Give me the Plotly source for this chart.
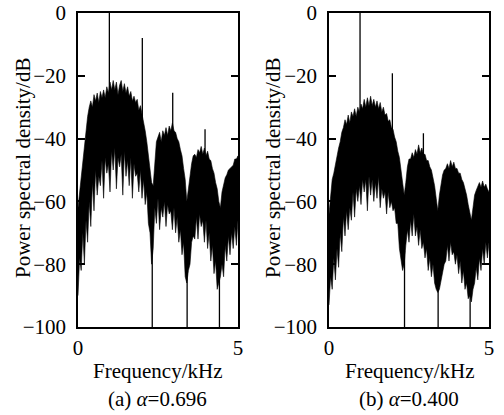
import numpy as np
import plotly.graph_objects as go

# frequency grid (kHz), 0.05 kHz step
freq = [round(0.05 * i, 2) for i in range(101)]

# ---- panel (a) alpha = 0.696 : upper / lower edge of the dense spectrum (dB)
upper_a = [-62, -57, -51, -47, -43, -38, -33, -30, -28, -30,
           -26, -28, -25.5, -28.5, -25, -27, -24.5, -27, -23.5, -25.5,
           -22, -24.5, -21.5, -24.5, -22, -26, -23, -21.5, -25, -22.5,
           -25.5, -23.5, -26.5, -25, -28, -26.5, -28.5, -27.5, -31, -29.5,
           -32, -34, -37.5, -41, -45.5, -49, -54, -55, -47, -41,
           -39.5, -38, -41, -37.5, -39, -36.5, -39, -36, -37.5, -35,
           -37.5, -38, -40, -41, -43.5, -45.5, -49.5, -53, -60, -56,
           -51, -48, -45.5, -45, -46, -43.5, -44.5, -42.5, -45, -43,
           -45.5, -44, -46.5, -47, -49.5, -51, -54, -56, -60, -62,
           -57, -54.5, -52.5, -51.5, -50, -49.5, -49, -48.5, -46.5, -46.5, -45.5]
lower_a = [-90, -78, -82, -70, -80, -66, -73, -60, -68, -54,
           -63, -50, -58, -52, -55, -47, -59, -46, -51, -48,
           -57, -44, -50, -43, -56, -46, -49, -45, -58, -44,
           -52, -47, -55, -46, -59, -48, -52, -51, -57, -50,
           -59, -53, -61, -57, -67, -70, -80, -75, -62, -67,
           -59, -69, -62, -65, -60, -68, -61, -64, -63, -69,
           -62, -70, -65, -73, -69, -77, -73, -84, -86, -82,
           -80, -73, -71, -72, -65, -72, -64, -68, -66, -73,
           -66, -75, -70, -79, -74, -83, -79, -88, -86, -84,
           -80, -84, -74, -79, -71, -77, -70, -75, -68, -74, -66]
up_spike_f_a = [0.98, 2.01, 2.96, 3.97]
up_spike_db_a = [0, -8, -25.4, -37]
null_f_a = [2.32, 3.41, 4.42]

# ---- panel (b) alpha = 0.400
upper_b = [-64, -58, -53, -51, -48, -45, -43, -41, -38, -36.5,
           -34, -35.5, -32.5, -35, -31.5, -33, -30.5, -33, -30, -31.5,
           -29, -30.5, -27.5, -30, -27, -29.5, -26.5, -29.5, -27.5, -30,
           -28, -30.5, -28.5, -31.5, -30, -32.5, -32, -34.5, -34, -36.5,
           -37, -39.5, -41, -44, -46, -50, -54, -58, -54, -49,
           -46.5, -46.5, -44.5, -46, -43.5, -45, -42, -44.5, -43, -45,
           -45, -47, -47, -49, -50, -52.5, -55, -59, -63, -58,
           -54, -51.5, -50, -49.5, -48, -49.5, -47, -49, -47.5, -49.5,
           -49.5, -51, -51, -53, -54, -56, -58, -61, -64, -66,
           -62, -58, -56.5, -55.5, -54, -55.5, -53.5, -55.5, -54.5, -56, -57]
lower_b = [-93, -84, -88, -78, -85, -75, -81, -70, -76, -65,
           -71, -63, -69, -62, -66, -57, -65, -56, -60, -55,
           -61, -53, -57, -53, -63, -52, -58, -53, -60, -54,
           -59, -52, -62, -56, -59, -57, -64, -57, -62, -60,
           -63, -62, -67, -67, -75, -78, -82, -80, -74, -69,
           -73, -66, -71, -64, -71, -68, -74, -69, -75, -73,
           -78, -75, -82, -78, -84, -80, -86, -88, -89, -88,
           -86, -83, -80, -79, -74, -79, -73, -77, -76, -80,
           -77, -83, -79, -86, -82, -88, -86, -91, -90, -92,
           -88, -86, -81, -85, -78, -82, -75, -80, -73, -78, -73]
up_spike_f_b = [0.97, 1.98, 2.95]
up_spike_db_b = [0, -19.2, -38.3]
null_f_b = [2.36, 3.41, 4.41]

x_ticks = [0, 5]
y_ticks = [0, -20, -40, -60, -80, -100]
captions = ["(a) <i>α</i>=0.696", "(b) <i>α</i>=0.400"]

FONT = "Liberation Serif"
fig = go.Figure()


def add_panel(col, upper, lower, sf, sdb, nulls):
    xa = "x" if col == 1 else "x2"
    ya = "y" if col == 1 else "y2"
    fig.add_trace(go.Scatter(
        x=freq + freq[::-1], y=upper + lower[::-1], mode="lines",
        fill="toself", fillcolor="black",
        line=dict(color="black", width=0.6), xaxis=xa, yaxis=ya,
        showlegend=False, hoverinfo="skip"))
    # narrow tonal spikes rising out of the spectrum
    base_up = np.interp(sf, freq, upper) - 3
    xs, ys = [], []
    for f, b, t in zip(sf, base_up, sdb):
        xs += [f, f, None]
        ys += [b, t, None]
    # deep nulls dropping to the floor
    base_lo = np.interp(nulls, freq, lower) + 3
    for f, b in zip(nulls, base_lo):
        xs += [f, f, None]
        ys += [b, -100, None]
    fig.add_trace(go.Scatter(
        x=xs, y=ys, mode="lines", line=dict(color="black", width=1.3),
        xaxis=xa, yaxis=ya, showlegend=False, hoverinfo="skip"))


add_panel(1, upper_a, lower_a, up_spike_f_a, up_spike_db_a, null_f_a)
add_panel(2, upper_b, lower_b, up_spike_f_b, up_spike_db_b, null_f_b)

axis_common = dict(showline=True, linecolor="black", linewidth=1.5,
                   mirror=True, showgrid=False, zeroline=False,
                   automargin=False,
                   tickfont=dict(family=FONT, size=21, color="black"))
xcommon = dict(axis_common, range=[0, 5], tickvals=x_ticks,
               ticktext=[str(v) for v in x_ticks], ticks="",
               ticklabelstandoff=1)
ycommon = dict(axis_common, range=[-100, 0], tickvals=y_ticks,
               ticks="inside", ticklen=7, tickwidth=1.5, tickcolor="black",
               mirror="ticks", ticklabelstandoff=6)

y0, y1 = (415 - 327) / 415, (415 - 13) / 415
fig.update_layout(
    width=504, height=415,
    margin=dict(l=0, r=0, t=0, b=0),
    paper_bgcolor="white", plot_bgcolor="white",
    font=dict(family=FONT, size=21, color="black"),
    xaxis=dict(xcommon, domain=[78 / 504, 238 / 504], anchor="y"),
    yaxis=dict(ycommon, domain=[y0, y1], anchor="x"),
    xaxis2=dict(xcommon, domain=[329 / 504, 489 / 504], anchor="y2"),
    yaxis2=dict(ycommon, domain=[y0, y1], anchor="x2"),
)

ann_font = dict(family=FONT, size=21, color="black")
centers = [157 / 504, 409 / 504]
ytitle_x = [23 / 504, 273 / 504]
for i in range(2):
    fig.add_annotation(x=centers[i], y=(415 - 371) / 415, xref="paper",
                       yref="paper", text="Frequency/kHz", showarrow=False,
                       font=ann_font, xanchor="center", yanchor="middle")
    fig.add_annotation(x=centers[i], y=(415 - 399) / 415, xref="paper",
                       yref="paper", text=captions[i], showarrow=False,
                       font=ann_font, xanchor="center", yanchor="middle")
    fig.add_annotation(x=ytitle_x[i], y=(415 - 168) / 415, xref="paper",
                       yref="paper", text="Power spectral density/dB",
                       textangle=-90, showarrow=False, font=ann_font,
                       xanchor="center", yanchor="middle")

fig.write_html("out.html")
